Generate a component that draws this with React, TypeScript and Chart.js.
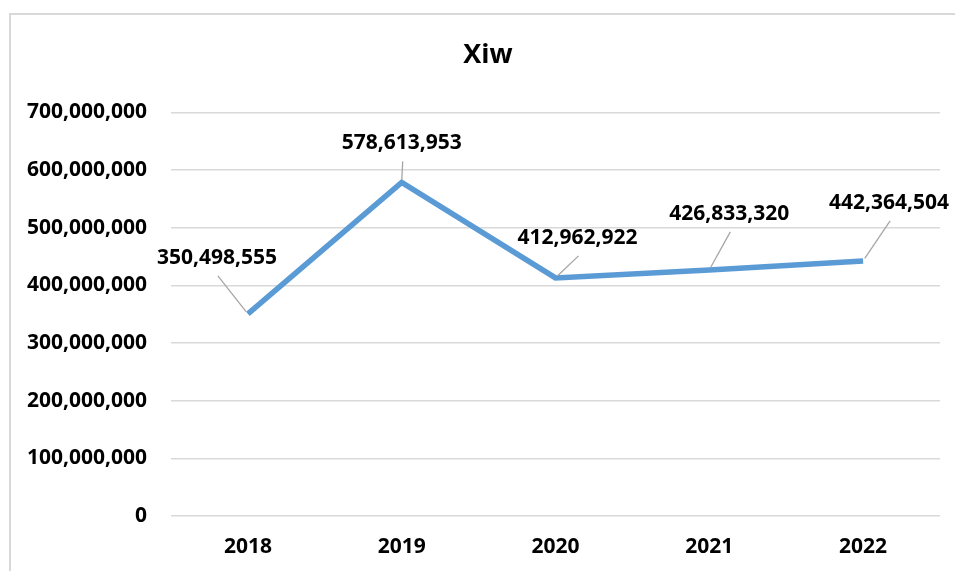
import React, { useEffect, useRef } from "react";
import { Chart, registerables } from "chart.js";

Chart.register(...registerables);

const categories: string[] = ["2018", "2019", "2020", "2021", "2022"];
const values: number[] = [350498555, 578613953, 412962922, 426833320, 442364504];
const yTicks: number[] = [0, 100000000, 200000000, 300000000, 400000000, 500000000, 600000000, 700000000];
const chartTitle = "Xiw";

// label placement offsets (px) relative to each point
const labelOffsets: [number, number][] = [
  [-31, -56],
  [0, -39],
  [22, -40],
  [20, -56],
  [26, -58],
];

const FONT = "'Open Sans', 'Noto Sans', sans-serif";

const fmt = (v: number) => v.toLocaleString("en-US");

const labelPlugin = {
  id: "leaderLabels",
  afterDatasetsDraw(chart: any) {
    const ctx = chart.ctx;
    const meta = chart.getDatasetMeta(0);
    ctx.save();
    ctx.font = `bold 21px ${FONT}`;
    ctx.textAlign = "center";
    ctx.textBaseline = "middle";
    meta.data.forEach((pt: any, i: number) => {
      const [dx, dy] = labelOffsets[i];
      const lx = pt.x + dx;
      const ly = pt.y + dy;
      const ex = lx + 1;
      const ey = ly + 18;
      const vx = ex - pt.x;
      const vy = ey - pt.y;
      const len = Math.hypot(vx, vy) || 1;
      const sx = pt.x + (vx / len) * 3;
      const sy = pt.y + (vy / len) * 3;
      ctx.strokeStyle = "#a6a6a6";
      ctx.lineWidth = 1.3;
      ctx.beginPath();
      ctx.moveTo(sx, sy);
      ctx.lineTo(ex, ey);
      ctx.stroke();
      ctx.fillStyle = "#000000";
      ctx.fillText(fmt(values[i]), lx, ly);
    });
    ctx.restore();
  },
};

export default function App() {
  const ref = useRef<HTMLCanvasElement | null>(null);
  useEffect(() => {
    if (!ref.current) return;
    const chart = new Chart(ref.current, {
      type: "line",
      data: {
        labels: categories,
        datasets: [
          {
            data: values,
            borderColor: "#5b9bd5",
            backgroundColor: "#5b9bd5",
            borderWidth: 5.5,
            pointRadius: 0,
            pointHoverRadius: 0,
            tension: 0,
            fill: false,
          },
        ],
      },
      options: {
        animation: false,
        responsive: false,
        maintainAspectRatio: false,
        layout: { padding: 0 },
        plugins: {
          legend: { display: false },
          tooltip: { enabled: false },
          title: {
            display: true,
            text: chartTitle,
            color: "#000000",
            font: { family: FONT, size: 27, weight: "bold" },
            padding: { top: 24, bottom: 41 },
          },
        },
        scales: {
          x: {
            type: "category",
            offset: true,
            grid: { display: false, drawTicks: false },
            border: { display: false },
            ticks: {
              color: "#000000",
              font: { family: FONT, size: 21, weight: "bold" },
              padding: 18,
              maxRotation: 0,
            },
            afterFit: (s: any) => {
              s.height = 55;
            },
          },
          y: {
            min: 0,
            max: 700000000,
            afterBuildTicks: (s: any) => {
              s.ticks = yTicks.map((v) => ({ value: v }));
            },
            grid: { color: "#d9d9d9", lineWidth: 1.5, drawTicks: false },
            border: { display: false },
            ticks: {
              color: "#000000",
              font: { family: FONT, size: 21, weight: "bold" },
              padding: 24,
              callback: (v: any) => fmt(Number(v)),
            },
            afterFit: (s: any) => {
              s.width = 160;
            },
          },
          yRight: {
            position: "right",
            min: 0,
            max: 700000000,
            grid: { display: false, drawTicks: false },
            border: { display: false },
            ticks: { display: false },
            afterFit: (s: any) => {
              s.width = 25;
            },
          },
        },
      },
      plugins: [labelPlugin],
    });
    return () => chart.destroy();
  }, []);

  return (
    <div
      style={{
        position: "fixed",
        left: 9,
        top: 13,
        width: 975,
        height: 580,
        border: "2px solid #d9d9d9",
        background: "#ffffff",
        boxSizing: "border-box",
        overflow: "hidden",
      }}
    >
      <canvas ref={ref} width={954} height={556} style={{ display: "block", width: 954, height: 556 }} />
    </div>
  );
}
